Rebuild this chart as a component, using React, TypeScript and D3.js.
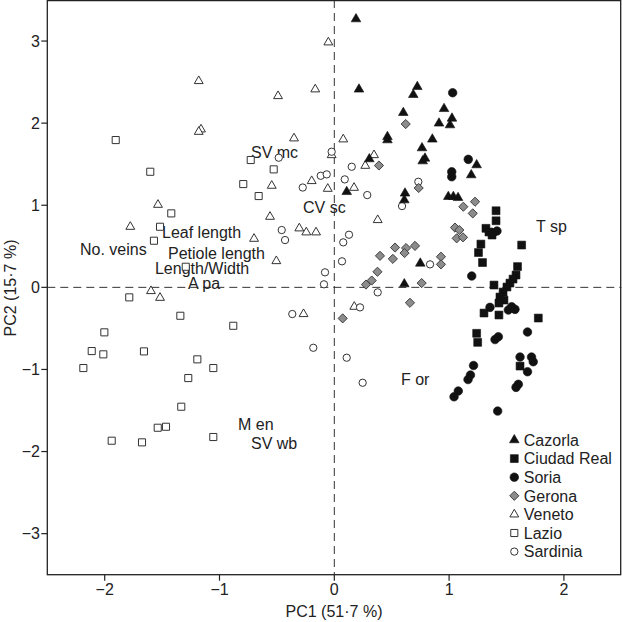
import React from "react";
import * as d3 from "d3";

// PCA scores [PC1, PC2] per population
const cazorla: [number, number][] = [
  [0.189, 3.268], [0.215, 2.412], [0.723, 2.443], [0.688, 2.346], [0.601, 2.127],
  [0.956, 2.175], [0.912, 1.998], [1.025, 2.058], [1.008, 1.977], [0.463, 1.834],
  [0.463, 1.794], [0.854, 1.803], [0.764, 1.697], [0.79, 1.571], [0.77, 1.538],
  [0.305, 1.563], [0.108, 1.164], [0.616, 1.145], [0.61, 1.063], [0.993, 1.104],
  [1.037, 1.104], [1.078, 1.091], [1.193, 1.368], [1.24, 1.49], [0.749, 0.292],
  [0.61, 0.04],
];
const ciudadReal: [number, number][] = [
  [1.409, 0.933], [1.409, 0.811], [1.321, 0.719], [1.347, 0.674], [1.374, 0.637],
  [1.277, 0.527], [1.256, 0.424], [1.291, 0.302], [1.632, 0.515], [1.596, 0.253],
  [1.583, 0.15], [1.557, 0.101], [1.53, 0.052], [1.504, 0.004], [1.391, 0.028],
  [1.47, -0.057], [1.443, -0.118], [1.478, -0.155], [1.434, -0.191], [1.304, -0.313],
  [1.434, -0.337], [1.777, -0.374], [1.24, -0.56], [1.249, -0.67], [1.618, -0.959],
];
const soria: [number, number][] = [
  [1.031, 2.37], [1.167, 1.559], [1.023, 1.408], [1.023, 1.347], [1.382, 0.661],
  [1.417, 0.686], [1.197, 0.138], [1.356, -0.244], [1.516, -0.276], [1.545, -0.236],
  [1.574, -0.268], [1.683, -0.544], [1.4, -0.636], [1.429, -0.602], [1.618, -0.849],
  [1.718, -0.849], [1.733, -0.906], [1.683, -1.028], [1.213, -0.952], [1.186, -1.068],
  [1.165, -1.123], [1.603, -1.181], [1.583, -1.218], [1.08, -1.263], [1.043, -1.333],
  [1.423, -1.507],
];
const gerona: [number, number][] = [
  [0.622, 1.989], [0.389, 1.484], [0.735, 1.21], [1.124, 0.982], [1.226, 1.043],
  [1.206, 0.901], [1.051, 0.728], [1.089, 0.698], [1.066, 0.597], [1.121, 0.609],
  [0.529, 0.485], [0.625, 0.479], [0.703, 0.505], [0.612, 0.418], [0.398, 0.384],
  [0.51, 0.347], [0.376, 0.19], [0.326, 0.083], [0.276, 0.034], [0.761, 0.052],
  [0.929, 0.373], [0.929, 0.28], [0.659, -0.188], [0.073, -0.378],
];
const veneto: [number, number][] = [
  [-1.181, 2.513], [-1.161, 1.924], [-1.181, 1.895], [-0.49, 2.33], [-0.166, 2.412],
  [-0.351, 1.815], [-0.545, 1.238], [-0.56, 0.86], [-1.536, 1.006], [-1.777, 0.738],
  [-0.699, 0.592], [-0.505, 0.32], [-0.305, 0.719], [-0.244, 0.67], [-0.159, 0.67],
  [-0.197, 1.295], [-1.597, -0.045], [-1.518, -0.127], [-0.052, 2.984], [0.078, 1.803],
  [0.346, 1.611], [0.27, 1.481], [-0.057, 1.201], [0.172, 1.213], [0.378, 0.82],
  [-0.023, 1.611], [-0.268, -0.325], [0.174, -0.236],
];
const lazio: [number, number][] = [
  [-1.904, 1.794], [-1.603, 1.408], [-1.42, 0.901], [-1.518, 0.738], [-1.571, 0.568],
  [-0.728, 1.551], [-0.528, 1.437], [-0.793, 1.258], [-0.659, 1.112], [-1.294, 0.251],
  [-1.786, -0.122], [-1.341, -0.346], [-0.88, -0.468], [-2.003, -0.548], [-2.113, -0.776],
  [-2.012, -0.816], [-1.658, -0.78], [-2.186, -0.983], [-1.193, -0.877], [-1.054, -0.983],
  [-1.272, -1.105], [-1.333, -1.454], [-1.538, -1.71], [-1.466, -1.698], [-1.939, -1.868],
  [-1.675, -1.888], [-1.054, -1.823],
];
const sardinia: [number, number][] = [
  [-0.484, 1.579], [-0.275, 1.216], [-0.458, 0.698], [-0.429, 0.576], [-0.118, 1.359],
  [-0.066, 1.376], [-0.023, 1.652], [0.152, 1.469], [0.091, 1.315], [0.287, 1.124],
  [0.732, 1.286], [0.59, 0.99], [0.078, 0.548], [0.128, 0.641], [0.067, 0.317],
  [-0.081, 0.183], [-0.09, 0.037], [0.378, -0.061], [0.834, 0.28], [0.224, -0.244],
  [-0.183, -0.736], [0.108, -0.857], [0.247, -1.162], [-0.366, -0.325],
];

// Variable labels (text start, baseline) in PC coordinates
const varNames = ["SV mc", "CV sc", "Leaf length", "No. veins", "Petiole length", "Length/Width", "A pa", "T sp", "F or", "M en", "SV wb"];
const varX = [-0.726, -0.273, -1.501, -2.215, -1.449, -1.562, -1.274, 1.757, 0.581, -0.839, -0.726];
const varY = [1.575, 0.905, 0.6, 0.393, 0.345, 0.162, -0.021, 0.673, -1.19, -1.738, -1.97];

const xTicks = [-2, -1, 0, 1, 2];
const yTicks = [-3, -2, -1, 0, 1, 2, 3];
const legendNames = ["Cazorla", "Ciudad Real", "Soria", "Gerona", "Veneto", "Lazio", "Sardinia"];

const W = 622, H = 622;
const x = d3.scaleLinear().domain([-2.5, 2.5]).range([47.3, 621.3]);
const y = d3.scaleLinear().domain([-3.5, 3.5]).range([574.7, 0]);

type Style = { type: d3.SymbolType; size: number; fill: string; stroke: string; sw: number; rot: number };
const styles: Style[] = [
  { type: d3.symbolTriangle, size: 40, fill: "#111", stroke: "#111", sw: 0.6, rot: 0 },
  { type: d3.symbolSquare, size: 62, fill: "#111", stroke: "#111", sw: 0.6, rot: 0 },
  { type: d3.symbolCircle, size: 58, fill: "#111", stroke: "#111", sw: 0.6, rot: 0 },
  { type: d3.symbolSquare, size: 42, fill: "#8c8c8c", stroke: "#3a3a3a", sw: 0.9, rot: 45 },
  { type: d3.symbolTriangle, size: 34, fill: "#fff", stroke: "#333", sw: 1, rot: 0 },
  { type: d3.symbolSquare, size: 50, fill: "#fff", stroke: "#333", sw: 1, rot: 0 },
  { type: d3.symbolCircle, size: 42, fill: "#fff", stroke: "#333", sw: 1, rot: 0 },
];
const groups = [cazorla, ciudadReal, soria, gerona, veneto, lazio, sardinia];
const drawOrder = [5, 4, 6, 3, 2, 1, 0];

const font = "'Liberation Sans', Arial, Helvetica, sans-serif";
const txt = "#222";

export default function App() {
  const sym = (s: Style) => d3.symbol().type(s.type).size(s.size)() as string;
  return (
    <svg width={W} height={H} style={{ position: "absolute", left: 0, top: 0, background: "#fff" }} fontFamily={font}>
      <rect x={0} y={0} width={W} height={H} fill="#fff" />
      {/* dashed zero lines */}
      <line x1={x(0)} x2={x(0)} y1={y(3.5)} y2={y(-3.5)} stroke="#333" strokeWidth={1} strokeDasharray="8,5" />
      <line x1={x(-2.5)} x2={x(2.5)} y1={y(0)} y2={y(0)} stroke="#333" strokeWidth={1} strokeDasharray="8,5" />
      {/* variable labels */}
      {varNames.map((n, i) => (
        <text key={n} x={x(varX[i])} y={y(varY[i])} fontSize={16} fill={txt}>{n}</text>
      ))}
      {/* points */}
      {drawOrder.map((gi) => (
        <g key={gi}>
          {groups[gi].map((p, j) => (
            <path key={j} d={sym(styles[gi])}
              transform={`translate(${x(p[0])},${y(p[1])}) rotate(${styles[gi].rot})`}
              fill={styles[gi].fill} stroke={styles[gi].stroke} strokeWidth={styles[gi].sw} />
          ))}
        </g>
      ))}
      {/* frame */}
      <rect x={x(-2.5)} y={y(3.5) + 0.6} width={x(2.5) - x(-2.5) - 0.6} height={y(-3.5) - y(3.5) - 0.6}
        fill="none" stroke="#222" strokeWidth={1.3} />
      {/* x axis ticks */}
      {xTicks.map((t) => (
        <g key={t}>
          <line x1={x(t)} x2={x(t)} y1={y(-3.5)} y2={y(-3.5) + 6} stroke="#222" strokeWidth={1.2} />
          <text x={x(t)} y={595} textAnchor="middle" fontSize={16} fill={txt}>{t < 0 ? "\u2212" + Math.abs(t) : t}</text>
        </g>
      ))}
      {yTicks.map((t) => (
        <g key={t}>
          <line x1={x(-2.5) - 6} x2={x(-2.5)} y1={y(t)} y2={y(t)} stroke="#222" strokeWidth={1.2} />
          <text x={40} y={y(t) + 5.8} textAnchor="end" fontSize={16} fill={txt}>{t < 0 ? "\u2212" + Math.abs(t) : t}</text>
        </g>
      ))}
      <text x={334} y={617} textAnchor="middle" fontSize={16} fill={txt}>PC1 (51·7 %)</text>
      <text transform={`translate(16,288) rotate(-90)`} textAnchor="middle" fontSize={16} fill={txt}>PC2 (15·7 %)</text>
      {/* legend */}
      {legendNames.map((n, i) => (
        <g key={n} transform={`translate(514.3,${440 + i * 18.6})`}>
          <path d={sym(styles[i])} transform={`rotate(${styles[i].rot})`} fill={styles[i].fill}
            stroke={styles[i].stroke} strokeWidth={styles[i].sw} />
          <text x={9.5} y={5.8} fontSize={16} fill={txt}>{n}</text>
        </g>
      ))}
    </svg>
  );
}
